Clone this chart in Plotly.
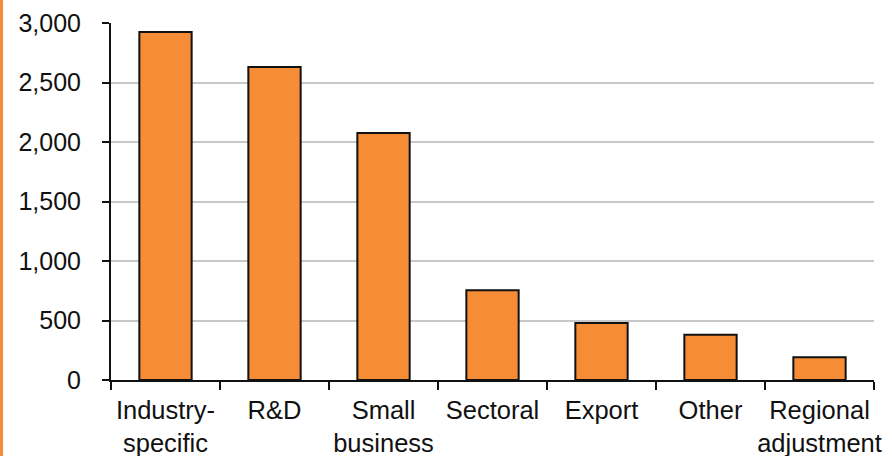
import plotly.graph_objects as go

categories = ["Industry-<br>specific", "R&D", "Small<br>business", "Sectoral", "Export", "Other", "Regional<br>adjustment"]
values = [2925, 2630, 2075, 755, 478, 380, 192]
y_ticks = [0, 500, 1000, 1500, 2000, 2500, 3000]
y_tick_labels = ["0", "500", "1,000", "1,500", "2,000", "2,500", "3,000"]

W, H = 892, 456
ML, MR, MT, MB = 111, 18, 23, 76
plot_w = W - ML - MR

fig = go.Figure(go.Bar(
    x=categories, y=values,
    marker=dict(color="#F68D36", line=dict(color="#111111", width=2)),
    width=0.48,
))

xfont = dict(family="Liberation Sans, Arial, sans-serif", size=25.5, color="#111111")
yfont = dict(family="Liberation Sans, Arial, sans-serif", size=25, color="#111111")

fig.update_layout(
    width=W, height=H,
    margin=dict(l=ML, r=MR, t=MT, b=MB, pad=0, autoexpand=False),
    paper_bgcolor="white", plot_bgcolor="white",
    font=yfont,
    showlegend=False,
    shapes=[dict(type="line", xref="paper", yref="paper",
                 x0=(1.5 - ML) / plot_w, x1=(1.5 - ML) / plot_w,
                 y0=-MB / (H - MT - MB), y1=1 + MT / (H - MT - MB),
                 line=dict(color="#F68D36", width=3))],
)
fig.update_xaxes(
    showline=True, linecolor="#111111", linewidth=2,
    ticks="outside", tickson="boundaries", ticklen=8, tickwidth=1.5, tickcolor="#111111",
    showgrid=False, tickfont=xfont, tickangle=0, automargin=False, ticklabelstandoff=6,
)
fig.update_yaxes(
    range=[0, 3000], tickvals=y_ticks, ticktext=y_tick_labels,
    showline=True, linecolor="#111111", linewidth=2,
    ticks="outside", ticklen=7, tickwidth=1.5, tickcolor="#111111",
    showgrid=True, gridcolor="#C8C8C8", gridwidth=1.5,
    tickfont=yfont, ticklabelstandoff=16, zeroline=False, automargin=False,
)
fig.write_html("out.html", config={"displayModeBar": False},
               post_script="document.body.style.margin='0';document.body.style.overflow='hidden';")
